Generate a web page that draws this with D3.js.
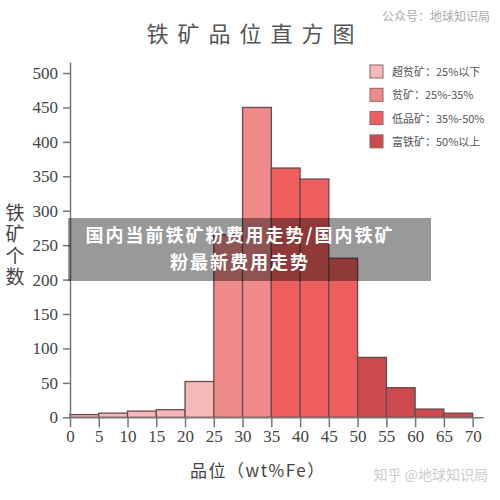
<!DOCTYPE html>
<html>
<head>
<meta charset="utf-8">
<script src="https://cdn.jsdelivr.net/npm/d3@7"></script>
<style>
  body { margin: 0; background: #fff; }
  .c-axis path, .c-axis line { stroke: #777; stroke-width: 1.5; }
  .c-axis text { font-family: "Liberation Serif", serif; font-size: 17px; fill: #444; }
</style>
</head>
<body>
<div id="chart"></div>
<script>
// bins of iron grade (wt%Fe), 5 wide
const binStarts = [0, 5, 10, 15, 20, 25, 30, 35, 40, 45, 50, 55, 60, 65];
const binCounts = [4, 6, 9, 11, 52, 265, 450, 362, 346, 231, 87, 43, 12, 6];
const binClass  = [0, 0, 0, 0, 0, 1, 1, 2, 2, 2, 3, 3, 3, 3]; // index into legend
const legendLabels = ['超贫矿：25%以下', '贫矿：25%-35%', '低品矿：35%-50%', '富铁矿：50%以上'];
const legendColors = ['#f6b8b8', '#f08b8c', '#ef5f60', '#cd4b4e'];
const xTicks = [0, 5, 10, 15, 20, 25, 30, 35, 40, 45, 50, 55, 60, 65, 70];
const yTicks = [0, 50, 100, 150, 200, 250, 300, 350, 400, 450, 500];
const bannerLines = ['国内当前铁矿粉费用走势/国内铁矿', '粉最新费用走势'];

class OreGradeChart {
  constructor(aims) {
    this.chartContainer = d3.select(aims);
    this.chart = null;
    this.chartWidth = 500;
    this.chartHeight = 500;
    this.xScale = null;
    this.yScale = null;
  }

  render() {
    this.createSvg();
    this.initScales();
    this.drawBars();
    this.drawAxes();
    this.drawLegend();
    this.drawTexts();
    this.drawBanner();
  }

  createSvg () {
    this.chart = this.chartContainer
      .append('svg')
      .attr('width', this.chartWidth)
      .attr('height', this.chartHeight);
  }

  initScales () {
    this.xScale = d3.scaleLinear().domain([0, 71.8]).range([70, 483]);
    this.yScale = d3.scaleLinear().domain([0, 516]).range([417.3, 62]);
  }

  drawBars () {
    this.chart
      .append('g')
      .attr('class', 'c-bars')
      .selectAll('rect')
      .data(binStarts)
      .enter()
      .append('rect')
      .attr('x', (d) => this.xScale(d))
      .attr('width', (d) => this.xScale(d + 5) - this.xScale(d))
      .attr('y', (d, i) => this.yScale(binCounts[i]))
      .attr('height', (d, i) => this.yScale(0) - this.yScale(binCounts[i]))
      .attr('fill', (d, i) => legendColors[binClass[i]])
      .attr('stroke', '#6b4a4b')
      .attr('stroke-width', 1.3);
  }

  drawAxes () {
    let yAxis = d3.axisLeft(this.yScale).tickValues(yTicks).tickSize(7).tickPadding(5).tickSizeOuter(0);
    let xAxis = d3.axisBottom(this.xScale).tickValues(xTicks).tickSize(10).tickPadding(3).tickSizeOuter(0);

    this.chart
      .append('g')
      .attr('class', 'c-axis')
      .attr('transform', 'translate(70, 0)')
      .call(yAxis);

    this.chart
      .append('g')
      .attr('class', 'c-axis')
      .attr('transform', 'translate(0, ' + this.yScale(0) + ')')
      .call(xAxis);
  }

  drawLegend () {
    let rows = this.chart
      .append('g')
      .attr('class', 'c-legend')
      .selectAll('g')
      .data(legendLabels)
      .enter()
      .append('g')
      .attr('transform', (d, i) => 'translate(370, ' + (65 + i * 23.3) + ')');

    rows.append('rect')
      .attr('width', 13)
      .attr('height', 13)
      .attr('fill', (d, i) => legendColors[i])
      .attr('stroke', '#8a6464')
      .attr('stroke-width', 1);

    rows.append('text')
      .attr('x', 22)
      .attr('y', 11)
      .attr('font-family', '"Noto Sans CJK SC", sans-serif')
      .attr('font-size', '11px')
      .attr('fill', '#555')
      .text((d) => d);
  }

  drawTexts () {
    // title
    this.chart.append('text')
      .attr('x', 255)
      .attr('y', 42)
      .attr('text-anchor', 'middle')
      .attr('font-family', '"Noto Sans CJK SC", sans-serif')
      .attr('font-size', '22px')
      .attr('letter-spacing', '9px')
      .attr('fill', '#555')
      .text('铁矿品位直方图');

    this.chart.append('text')
      .attr('x', 490)
      .attr('y', 21)
      .attr('text-anchor', 'end')
      .attr('font-family', '"Noto Sans CJK SC", sans-serif')
      .attr('font-size', '12px')
      .attr('fill', '#aaa')
      .text('公众号：地球知识局');

    // y label, written top to bottom
    this.chart.append('text')
      .attr('x', 15)
      .attr('y', 203)
      .style('writing-mode', 'vertical-rl')
      .attr('font-family', '"Noto Sans CJK SC", sans-serif')
      .attr('font-size', '19px')
      .attr('letter-spacing', '2.5px')
      .attr('fill', '#444')
      .text('铁矿个数');

    this.chart.append('text')
      .attr('x', 190)
      .attr('y', 477)
      .attr('font-family', '"Noto Sans CJK SC", sans-serif')
      .attr('font-size', '17px')
      .attr('letter-spacing', '1.5px')
      .attr('fill', '#444')
      .text('品位（wt%Fe）');

    this.chart.append('text')
      .attr('x', 488)
      .attr('y', 480)
      .attr('text-anchor', 'end')
      .attr('font-family', '"Noto Sans CJK SC", sans-serif')
      .attr('font-size', '14px')
      .attr('fill', '#ccc')
      .text('知乎 @地球知识局');
  }

  drawBanner () {
    this.chart.append('rect')
      .attr('x', 68)
      .attr('y', 218)
      .attr('width', 363)
      .attr('height', 63)
      .attr('fill', '#000')
      .attr('opacity', 0.4);

    this.chart.append('g')
      .selectAll('text')
      .data(bannerLines)
      .enter()
      .append('text')
      .attr('x', 240)
      .attr('y', (d, i) => 242 + i * 26.5)
      .attr('text-anchor', 'middle')
      .attr('font-family', '"Noto Sans CJK SC", sans-serif')
      .attr('font-weight', 'bold')
      .attr('font-size', '18px')
      .attr('letter-spacing', '2px')
      .attr('fill', '#fff')
      .text((d) => d);
  }
}

new OreGradeChart('#chart').render();
</script>
</body>
</html>
